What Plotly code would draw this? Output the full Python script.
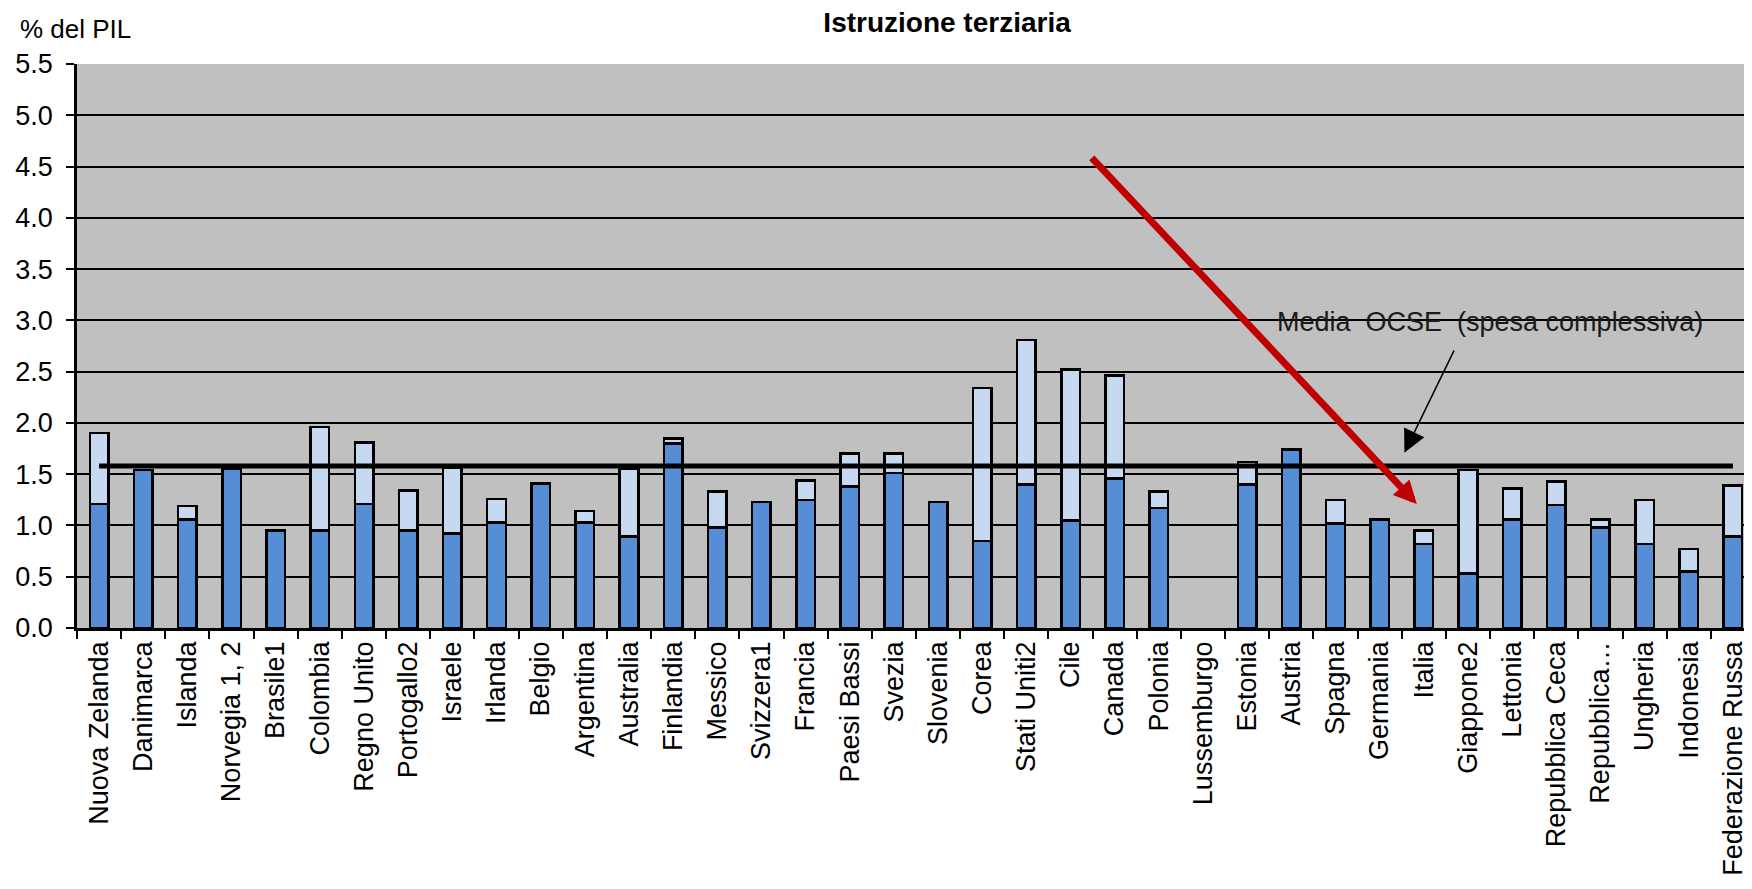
import plotly.graph_objects as go

categories = [
    "Nuova Zelanda", "Danimarca", "Islanda", "Norvegia 1, 2", "Brasile1", "Colombia",
    "Regno Unito", "Portogallo2", "Israele", "Irlanda", "Belgio", "Argentina",
    "Australia", "Finlandia", "Messico", "Svizzera1", "Francia", "Paesi Bassi",
    "Svezia", "Slovenia", "Corea", "Stati Uniti2", "Cile", "Canada", "Polonia",
    "Lussemburgo", "Estonia", "Austria", "Spagna", "Germania", "Italia", "Giappone2",
    "Lettonia", "Repubblica Ceca", "Repubblica…", "Ungheria", "Indonesia",
    "Federazione Russa",
]

# spesa pubblica (% del PIL)
public = [
    1.21, 1.54, 1.06, 1.55, 0.95, 0.95, 1.21, 0.95, 0.92, 1.03, 1.41, 1.03,
    0.89, 1.80, 0.98, 1.23, 1.25, 1.38, 1.51, 1.23, 0.85, 1.40, 1.05, 1.46, 1.17,
    None, 1.40, 1.74, 1.02, 1.06, 0.82, 0.53, 1.06, 1.20, 0.98, 0.82, 0.55, 0.89,
]

# spesa privata (% del PIL)
private = [
    0.69, None, 0.13, None, None, 1.01, 0.60, 0.39, 0.64, 0.23, None, 0.11,
    0.66, 0.05, 0.35, None, 0.19, 0.32, 0.19, None, 1.49, 1.41, 1.47, 1.00, 0.16,
    None, 0.22, None, 0.23, None, 0.13, 1.01, 0.30, 0.23, 0.08, 0.43, 0.22, 0.50,
]

oecd_average = 1.58
y_ticks = [0.0, 0.5, 1.0, 1.5, 2.0, 2.5, 3.0, 3.5, 4.0, 4.5, 5.0, 5.5]

FONT = "Liberation Sans, Arial, sans-serif"
DARK = "#558ED5"
LIGHT = "#C6D9F1"

fig = go.Figure()
fig.add_trace(go.Bar(
    x=categories, y=public, width=0.42,
    marker=dict(color=DARK, line=dict(color="black", width=2.5)),
    showlegend=False,
))
fig.add_trace(go.Bar(
    x=categories, y=private, width=0.42,
    marker=dict(color=LIGHT, line=dict(color="black", width=2.5)),
    showlegend=False,
))
fig.add_trace(go.Scatter(
    x=[categories[0], categories[-1]], y=[oecd_average, oecd_average],
    mode="lines", line=dict(color="black", width=5), showlegend=False,
))

annotations = [
    # red arrow
    dict(x=29.84, y=1.21, ax=22.45, ay=4.6, xref="x", yref="y", axref="x", ayref="y",
         text="", showarrow=True, arrowhead=2, arrowsize=0.65, arrowwidth=7,
         arrowcolor="#C00000"),
    # black arrow
    dict(x=29.56, y=1.71, ax=30.7, ay=2.72, xref="x", yref="y", axref="x", ayref="y",
         text="", showarrow=True, arrowhead=2, arrowsize=3, arrowwidth=1.5,
         arrowcolor="black"),
    dict(x=31.5, y=2.98, xref="x", yref="y",
         text="Media\u00a0 OCSE\u00a0 (spesa complessiva)", showarrow=False,
         font=dict(family=FONT, size=27, color="#1a1a1a"), xanchor="center", yanchor="middle"),
    dict(x=-0.035, y=1.062, xref="paper", yref="paper", text="% del PIL",
         showarrow=False, xanchor="left", yanchor="middle",
         font=dict(family=FONT, size=26, color="black")),
]

fig.update_layout(
    width=1752, height=889,
    margin=dict(l=69, r=5, t=56, b=269),
    paper_bgcolor="white",
    plot_bgcolor="#C0C0C0",
    barmode="stack",
    font=dict(family=FONT, size=27, color="black"),
    title=dict(text="<b>Istruzione terziaria</b>", x=0.536, xanchor="center",
               y=0.984, yanchor="middle", yref="container",
               font=dict(family=FONT, size=28, color="black")),
    annotations=annotations,
    xaxis=dict(
        type="category", tickangle=-90, tickson="boundaries",
        ticks="outside", ticklen=8, tickwidth=2, tickcolor="black",
        showline=True, linecolor="black", linewidth=2.5, showgrid=False,
        tickfont=dict(family=FONT, size=27, color="black"),
        range=[-0.5, len(categories) - 0.5],
    ),
    yaxis=dict(
        range=[0, 5.5], tickvals=y_ticks, ticktext=[f"{v:.1f}" for v in y_ticks],
        ticks="outside", ticklen=8, tickwidth=2, tickcolor="black",
        ticklabelstandoff=8,
        showline=True, linecolor="black", linewidth=2.5,
        showgrid=True, gridcolor="black", gridwidth=2, zeroline=False,
        tickfont=dict(family=FONT, size=27, color="black"),
    ),
)

fig.write_html("out.html")
